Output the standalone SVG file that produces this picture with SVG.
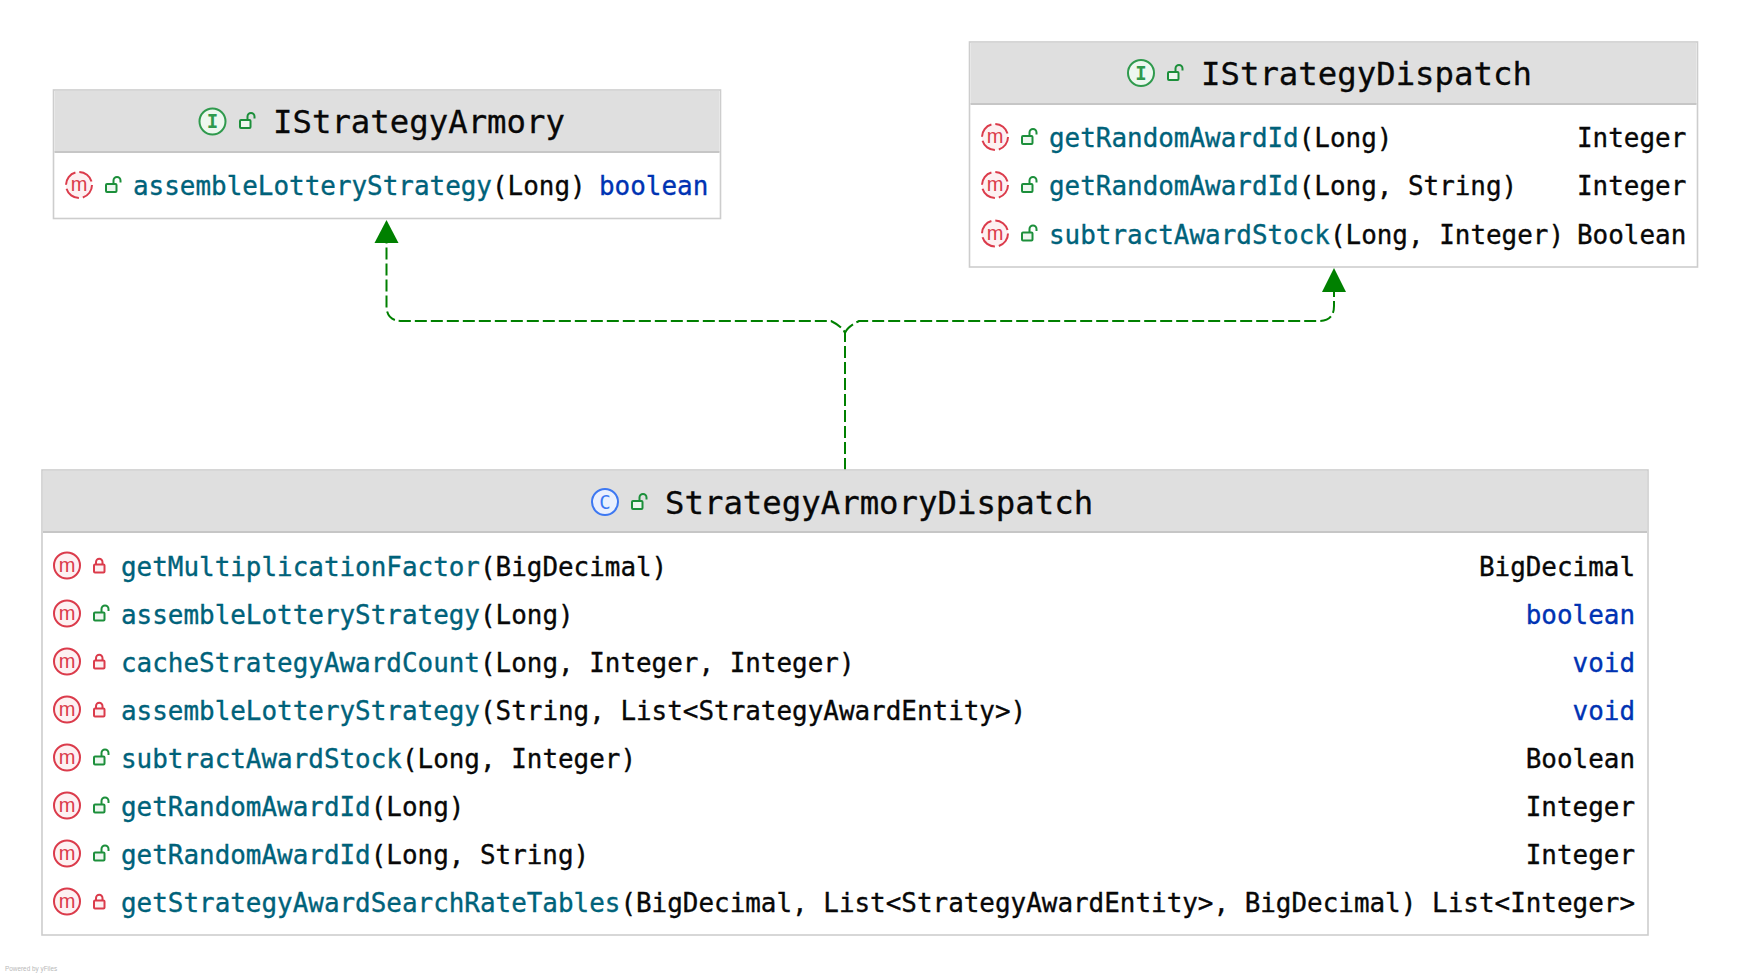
<svg xmlns="http://www.w3.org/2000/svg" width="1740" height="976" viewBox="0 0 1740 976">
<style>
text{font-family:"DejaVu Sans Mono","Liberation Mono",monospace;white-space:pre}
.t{font-size:32.35px;fill:#080808;stroke:#080808;stroke-width:.3}
.r{font-size:25.93px;fill:#080808;stroke:#080808;stroke-width:.35}
.e{text-anchor:end}
.n{fill:#00627a;stroke:#00627a}
.k{fill:#0033b3;stroke:#0033b3}
.box{fill:#fff;stroke:#cdcdcd;stroke-width:1.6}
.hd{fill:#dfdfdf}
.sep{stroke:#c6c6c6;stroke-width:2}
.edge{fill:none;stroke:#008000;stroke-width:2;stroke-dasharray:12 4}
.ic{font-size:19px;text-anchor:middle;font-weight:bold}
.mi{font-size:20px;text-anchor:middle;font-family:"Liberation Sans",sans-serif;fill:#db3b4b}
.small{font-family:"Liberation Sans",sans-serif;font-size:6.4px;fill:#b8b8b8}
</style>
<defs>
<g id="m"><circle r="13" fill="#fdf1f2" stroke="#db3b4b" stroke-width="2"/><text y="6" class="mi">m</text></g>
<g id="ma"><circle r="13" fill="#fdf1f2" stroke="#db3b4b" stroke-width="2" stroke-dasharray="16.4 4"/><text y="6" class="mi">m</text></g>
<g id="pub"><rect x="-7" y="-1" width="10.500" height="8" rx="1" fill="#eef7f0" stroke="#1c8f3b" stroke-width="2"/><path d="M0.500-1.500V-4.500a3.500 3.500 0 0 1 7 0V-2.500" fill="none" stroke="#1c8f3b" stroke-width="2"/></g>
<g id="pri"><rect x="-5" y="-1" width="10.500" height="8" rx="1" fill="#fdf1f2" stroke="#db3b4b" stroke-width="2"/><path d="M-3-1.500V-3.500a3.200 3.200 0 0 1 6.500 0V-1.500" fill="none" stroke="#db3b4b" stroke-width="2"/></g>
</defs>

<g id="connectors">
<path class="edge" d="M845 470V333Q843 327 831 321Q827 321 823 321H402Q386.500 321 386.500 306V243"/>
<path class="edge" d="M845 333Q847 327 859 321H1319Q1334 321 1334 306V292"/>
<path d="M386.500 220L398.500 243H374.500Z" fill="#008000"/>
<path d="M1334 268L1346 292H1322Z" fill="#008000"/>
</g>

<g id="IStrategyArmory">
<rect class="box" x="53.500" y="90" width="667" height="128.500"/>
<rect class="hd" x="54.500" y="91" width="665" height="61"/>
<line class="sep" x1="54.500" y1="152" x2="719.500" y2="152"/>
<circle cx="212.500" cy="121.500" r="13" fill="#edf7ef" stroke="#2f9a4d" stroke-width="2"/>
<text x="212.500" y="128" class="ic" fill="#2f9a4d">I</text>
<use href="#pub" x="247" y="121"/>
<text x="273" y="133" class="t">IStrategyArmory</text>
<use href="#ma" x="79" y="185"/><use href="#pub" x="113" y="185"/>
<text x="133" y="195" class="r"><tspan class="n">assembleLotteryStrategy</tspan>(Long)</text>
<text x="599" y="195" class="r k">boolean</text>
</g>

<g id="IStrategyDispatch">
<rect class="box" x="969.500" y="42" width="728" height="225"/>
<rect class="hd" x="970.500" y="43" width="726" height="61"/>
<line class="sep" x1="970.500" y1="104" x2="1696.500" y2="104"/>
<circle cx="1141" cy="73" r="13" fill="#edf7ef" stroke="#2f9a4d" stroke-width="2"/>
<text x="1141" y="79.500" class="ic" fill="#2f9a4d">I</text>
<use href="#pub" x="1175" y="73"/>
<text x="1201" y="85" class="t">IStrategyDispatch</text>
<use href="#ma" x="995" y="137"/><use href="#pub" x="1029" y="137"/>
<text x="1049" y="147" class="r"><tspan class="n">getRandomAwardId</tspan>(Long)</text>
<text x="1577" y="147" class="r">Integer</text>
<use href="#ma" x="995" y="185"/><use href="#pub" x="1029" y="185"/>
<text x="1049" y="195" class="r"><tspan class="n">getRandomAwardId</tspan>(Long, String)</text>
<text x="1577" y="195" class="r">Integer</text>
<use href="#ma" x="995" y="233.500"/><use href="#pub" x="1029" y="233.500"/>
<text x="1049" y="243.500" class="r"><tspan class="n">subtractAwardStock</tspan>(Long, Integer)</text>
<text x="1577" y="243.500" class="r">Boolean</text>
</g>

<g id="StrategyArmoryDispatch">
<rect class="box" x="42" y="470" width="1606" height="465"/>
<rect class="hd" x="43" y="471" width="1604" height="61"/>
<line class="sep" x1="43" y1="532" x2="1647" y2="532"/>
<circle cx="605" cy="502" r="13" fill="#eaf0fe" stroke="#3d78f2" stroke-width="2"/>
<text x="605" y="508.500" class="ic" fill="#3d78f2" style="font-weight:normal">C</text>
<use href="#pub" x="639" y="502"/>
<text x="665" y="514" class="t">StrategyArmoryDispatch</text>

<use href="#m" x="67" y="565.500"/><use href="#pri" x="99" y="565.500"/>
<text x="121" y="576" class="r"><tspan class="n">getMultiplicationFactor</tspan>(BigDecimal)</text>
<text x="1635" y="576" class="r e">BigDecimal</text>

<use href="#m" x="67" y="613.500"/><use href="#pub" x="101" y="613.500"/>
<text x="121" y="624" class="r"><tspan class="n">assembleLotteryStrategy</tspan>(Long)</text>
<text x="1635" y="624" class="r e k">boolean</text>

<use href="#m" x="67" y="661.500"/><use href="#pri" x="99" y="661.500"/>
<text x="121" y="672" class="r"><tspan class="n">cacheStrategyAwardCount</tspan>(Long, Integer, Integer)</text>
<text x="1635" y="672" class="r e k">void</text>

<use href="#m" x="67" y="709.500"/><use href="#pri" x="99" y="709.500"/>
<text x="121" y="720" class="r"><tspan class="n">assembleLotteryStrategy</tspan>(String, List&lt;StrategyAwardEntity&gt;)</text>
<text x="1635" y="720" class="r e k">void</text>

<use href="#m" x="67" y="757.500"/><use href="#pub" x="101" y="757.500"/>
<text x="121" y="768" class="r"><tspan class="n">subtractAwardStock</tspan>(Long, Integer)</text>
<text x="1635" y="768" class="r e">Boolean</text>

<use href="#m" x="67" y="805.500"/><use href="#pub" x="101" y="805.500"/>
<text x="121" y="816" class="r"><tspan class="n">getRandomAwardId</tspan>(Long)</text>
<text x="1635" y="816" class="r e">Integer</text>

<use href="#m" x="67" y="853.500"/><use href="#pub" x="101" y="853.500"/>
<text x="121" y="864" class="r"><tspan class="n">getRandomAwardId</tspan>(Long, String)</text>
<text x="1635" y="864" class="r e">Integer</text>

<use href="#m" x="67" y="901.500"/><use href="#pri" x="99" y="901.500"/>
<text x="121" y="912" class="r"><tspan class="n">getStrategyAwardSearchRateTables</tspan>(BigDecimal, List&lt;StrategyAwardEntity&gt;, BigDecimal)</text>
<text x="1635" y="912" class="r e">List&lt;Integer&gt;</text>
</g>

<text x="5" y="971" class="small">Powered by yFiles</text>
</svg>
